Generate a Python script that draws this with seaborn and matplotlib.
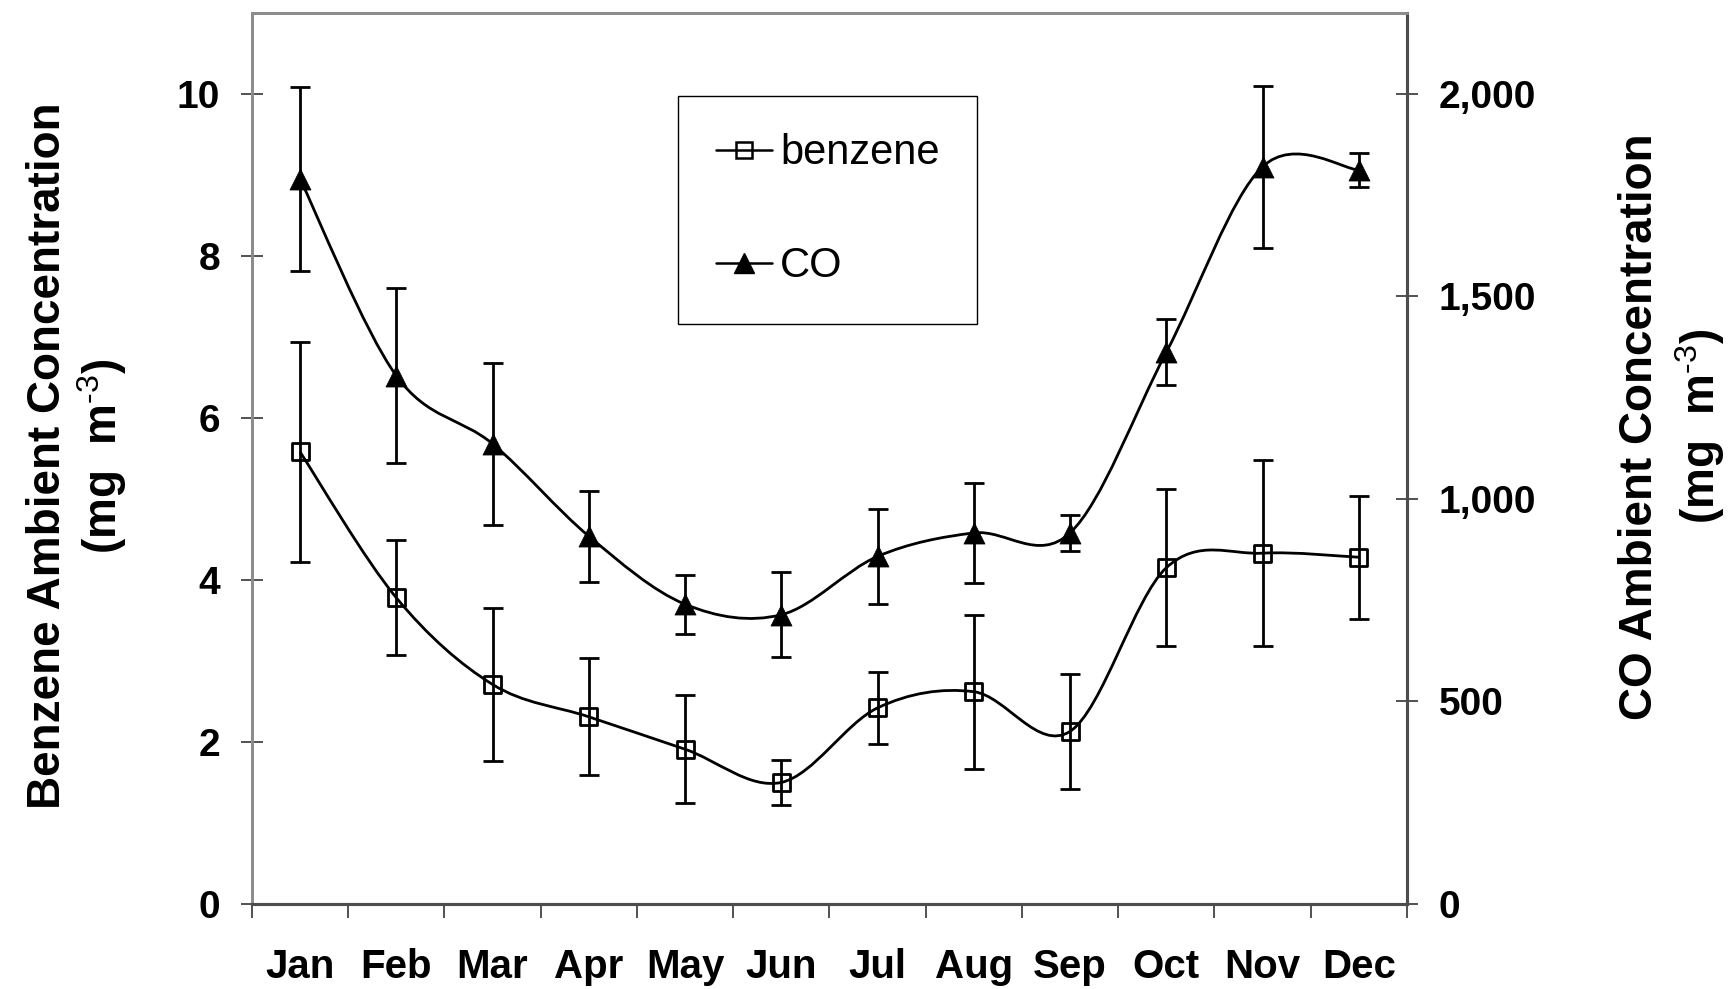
import numpy as np
import pandas as pd
import matplotlib
matplotlib.use("Agg")
import matplotlib.pyplot as plt
import seaborn as sns
from matplotlib.path import Path
from matplotlib.patches import PathPatch
from matplotlib.lines import Line2D
from matplotlib.ticker import FuncFormatter, FixedLocator

# ---------------- data ----------------
months = ["Jan", "Feb", "Mar", "Apr", "May", "Jun", "Jul", "Aug", "Sep", "Oct", "Nov", "Dec"]
benzene = [5.58, 3.78, 2.71, 2.31, 1.91, 1.50, 2.42, 2.62, 2.13, 4.15, 4.33, 4.28]
benzene_err = [1.36, 0.71, 0.94, 0.72, 0.67, 0.28, 0.44, 0.95, 0.71, 0.97, 1.15, 0.76]
co = [1790, 1304, 1136, 908, 740, 714, 858, 916, 916, 1362, 1820, 1812]
co_err = [228, 216, 200, 112, 73, 105, 117, 124, 45, 82, 200, 42]
left_ticks = [0, 2, 4, 6, 8, 10]
right_ticks = [0, 500, 1000, 1500, 2000]

sns.set_theme(style="white")
plt.rcParams["font.family"] = ["Liberation Sans", "DejaVu Sans"]
plt.rcParams["mathtext.fontset"] = "custom"
plt.rcParams["mathtext.rm"] = "Liberation Sans"
plt.rcParams["mathtext.bf"] = "Liberation Sans:bold"
plt.rcParams["mathtext.default"] = "bf"
for key in ("text.color", "axes.labelcolor", "xtick.color", "ytick.color"):
    plt.rcParams[key] = "black"

fig = plt.figure(figsize=(17.35, 9.89), dpi=100)
ax = fig.add_axes([0.1452, 0.086, 0.6657, 0.901])
ax2 = ax.twinx()

x = np.arange(len(months))
df = pd.DataFrame({"month": x, "benzene": benzene, "benzene_err": benzene_err,
                   "co": co, "co_err": co_err})


def smooth_patch(xs, ys, t=1.0 / 6.0):
    pts = np.column_stack([xs, ys]).astype(float)
    n = len(pts)
    verts = [tuple(pts[0])]
    codes = [Path.MOVETO]
    for i in range(n - 1):
        p0 = pts[i - 1] if i > 0 else pts[i]
        p1 = pts[i]
        p2 = pts[i + 1]
        p3 = pts[i + 2] if i + 2 < n else pts[i + 1]
        c1 = p1 + (p2 - p0) * t
        c2 = p2 - (p3 - p1) * t
        verts += [tuple(c1), tuple(c2), tuple(p2)]
        codes += [Path.CURVE4] * 3
    return Path(verts, codes)


LW = 2.0

# benzene on left axis
ax.add_patch(PathPatch(smooth_patch(x, df["benzene"]), facecolor="none",
                       edgecolor="black", lw=LW, zorder=2))
ax.errorbar(df["month"], df["benzene"], yerr=df["benzene_err"], fmt="none",
            ecolor="black", elinewidth=LW, capsize=7.5, capthick=LW, zorder=3)
sns.scatterplot(data=df, x="month", y="benzene", marker="s", s=150,
                facecolors="none", edgecolor="black", linewidth=2.0,
                ax=ax, zorder=4, legend=False)

# CO on right axis
ax2.add_patch(PathPatch(smooth_patch(x, df["co"]), facecolor="none",
                        edgecolor="black", lw=LW, zorder=2))
ax2.errorbar(df["month"], df["co"], yerr=df["co_err"], fmt="none",
             ecolor="black", elinewidth=LW, capsize=7.5, capthick=LW, zorder=3)
sns.scatterplot(data=df, x="month", y="co", marker="^", s=230,
                color="black", edgecolor="black", linewidth=0.5,
                ax=ax2, zorder=4, legend=False)

# axes limits
ax.set_xlim(-0.5, len(months) - 0.5)
ax.set_ylim(0, 11)
ax2.set_ylim(0, 2200)

# x ticks: labels at centres, tick marks at boundaries
ax.xaxis.set_major_locator(FixedLocator(x))
ax.set_xticklabels(months)
ax.xaxis.set_minor_locator(FixedLocator(np.arange(-0.5, len(months), 1.0)))
ax.tick_params(axis="x", which="major", length=0, pad=32, labelsize=29)
ax.tick_params(axis="x", which="minor", length=10, width=1.2, color="#333333",
               direction="out", bottom=True)
for lab in ax.get_xticklabels():
    lab.set_fontweight("bold")

ax.set_yticks(left_ticks)
ax.tick_params(axis="y", which="major", direction="inout", length=16, width=1.2,
               color="#333333", pad=15, labelsize=28, left=True)
for lab in ax.get_yticklabels():
    lab.set_fontweight("bold")

ax2.set_yticks(right_ticks)
ax2.yaxis.set_major_formatter(FuncFormatter(lambda v, p: f"{int(v):,}"))
ax2.tick_params(axis="y", which="major", direction="inout", length=16, width=1.2,
                color="#333333", pad=15, labelsize=28, right=True)
for lab in ax2.get_yticklabels():
    lab.set_fontweight("bold")

# spines
for a in (ax, ax2):
    for side in ("left", "top"):
        a.spines[side].set_color("#8c8c8c")
        a.spines[side].set_linewidth(2.0)
    for side in ("right", "bottom"):
        a.spines[side].set_color("#4d4d4d")
        a.spines[side].set_linewidth(2.2)
    a.grid(False)

# axis labels
unit = "(mg  m$^{\\text{-3}}$)"
ax.set_ylabel("Benzene Ambient Concentration\n" + unit, fontsize=33,
              fontweight="bold", linespacing=1.1)
ax.yaxis.label.set_horizontalalignment("center")
ax.yaxis.label.set_verticalalignment("center")
ax.yaxis.set_label_coords(-0.151, 0.503)

ax2.set_ylabel("CO Ambient Concentration\n" + unit, fontsize=33,
               fontweight="bold", linespacing=1.25)
ax2.yaxis.label.set_horizontalalignment("center")
ax2.yaxis.label.set_verticalalignment("center")
ax2.yaxis.set_label_coords(1.230, 0.536)
ax.set_xlabel("")

# legend
handles = [
    Line2D([], [], color="black", lw=1.8, marker="s", markersize=11,
           markerfacecolor="none", markeredgecolor="black", markeredgewidth=1.8),
    Line2D([], [], color="black", lw=1.8, marker="^", markersize=14,
           markerfacecolor="black", markeredgecolor="black"),
]
leg = ax2.legend(handles, ["benzene", "CO"], loc="upper left",
                 bbox_to_anchor=(0.369, 0.907), fontsize=30, frameon=True,
                 fancybox=False, edgecolor="black", framealpha=1,
                 borderpad=0.9, labelspacing=1.75, handlelength=1.35,
                 handletextpad=0.2, borderaxespad=0)
leg.get_frame().set_linewidth(1.0)

fig.savefig("out.png", dpi=100)
